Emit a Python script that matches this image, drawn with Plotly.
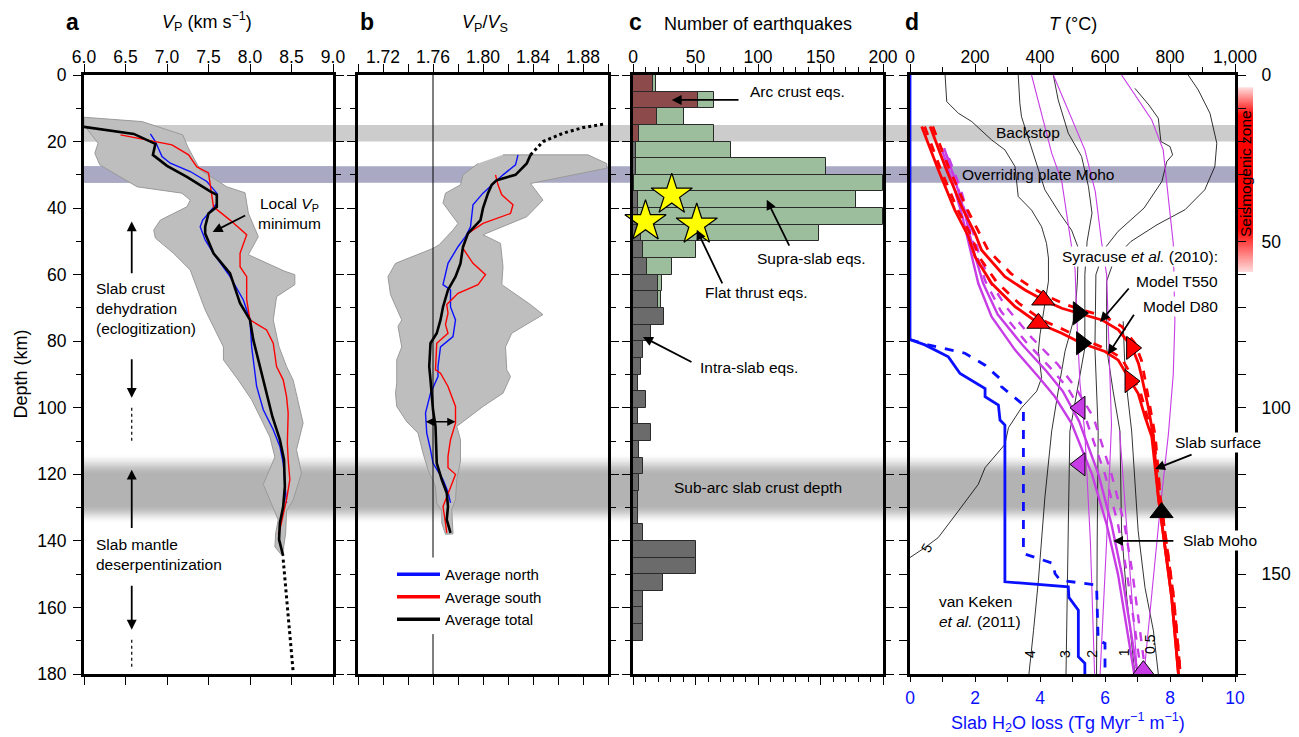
import plotly.graph_objects as go

# page shows the figure with an 8 px body margin -> canvas offset by 8 px
OFF = 8
W, H = 1299 - OFF, 737 - OFF
FONT = "Liberation Sans, Arial, Helvetica, sans-serif"

# ---------------- data ----------------
# panel a : Vp envelope (right edge top->bottom, then left edge bottom->top)
a_env_vp = [6.0, 6.7, 7.19, 7.25, 7.4, 7.72, 7.94, 7.98, 8.1, 7.98, 8.42, 8.54, 8.54, 8.32, 8.28, 8.35, 8.44,
            8.52, 8.64, 8.56, 8.62, 8.52, 8.44, 8.43, 8.39,
            8.3, 8.31, 8.34, 8.16, 8.3, 8.24, 8.02, 7.86, 7.68, 7.68, 7.46, 7.28, 7.08, 6.86, 6.84, 6.92,
            7.24, 7.28, 7.18, 6.64, 6.19, 6.13, 6.17, 6.03, 6.0]
a_env_depth = [12.7, 14, 18, 21.6, 28.5, 33.6, 35.4, 41.5, 48.6, 54, 59, 60, 63, 66.6, 73.6, 81.7, 87.6,
               91.7, 104.6, 112.6, 119.6, 127.7, 131, 137.6, 144.5,
               141.8, 137.6, 133.7, 123, 114.8, 108.8, 97.6, 91.7, 85.6, 81.7, 70.6, 58.6, 53.6, 49, 46.6, 43.6,
               39.6, 37.6, 35.5, 33.6, 27, 23.5, 20.5, 16, 15]
a_total_vp = [6.0, 6.6, 6.86, 6.83, 7.0, 7.24, 7.52, 7.6, 7.6, 7.5, 7.46, 7.46, 7.56, 7.76, 7.88, 8.0, 8.04, 8.12,
              8.16, 8.27, 8.36, 8.41, 8.42, 8.4, 8.36, 8.35, 8.4]
a_total_depth = [15.6, 17.7, 20.7, 24, 27.3, 30.6, 35, 36, 39.6, 41.6, 45.6, 47.6, 53.6, 59.6, 68.6, 73.6, 79.6, 87.6,
                 91.6, 102.7, 109.6, 115.6, 123.7, 129.7, 134.6, 139.6, 144.5]
a_extrap_vp = [8.4, 8.52]
a_extrap_depth = [145.6, 179.4]
a_north_vp = [6.8, 6.86, 6.94, 7.04, 7.28, 7.48, 7.6, 7.6, 7.43, 7.4, 7.46, 7.56, 7.76, 7.92, 8.0, 8.02, 8.05, 8.08,
              8.16, 8.28, 8.36, 8.4, 8.44]
a_north_depth = [17.7, 20, 24.5, 26.5, 29, 32, 35.5, 38.6, 43.6, 45.6, 49.6, 53.6, 60.6, 67.6, 73.6, 81.7, 87.6, 93.6,
                 100.6, 106.6, 111.6, 116.6, 128.6]
a_south_vp = [6.44, 6.76, 7.06, 7.26, 7.36, 7.5, 7.54, 7.56, 7.76, 7.96, 7.88, 7.88, 7.96, 7.96, 8.0, 8.2, 8.28, 8.32,
              8.4, 8.44, 8.46, 8.45, 8.46, 8.48, 8.44, 8.4, 8.36, 8.34]
a_south_depth = [18, 19.5, 21, 24, 27.6, 29.4, 35.5, 39.6, 43.6, 48, 53.6, 57.6, 60.6, 67.6, 73.6, 76.6, 80.6, 87.6,
                 91.6, 96.6, 101.6, 110.6, 115.6, 121.6, 127.6, 132.6, 136.6, 138]

# panel b : Vp/Vs
b_env_r = [1.816, 1.884, 1.899, 1.899, 1.838, 1.848, 1.835, 1.80, 1.814, 1.816, 1.815, 1.838, 1.848, 1.823, 1.818,
           1.819, 1.822, 1.816, 1.80, 1.779, 1.782, 1.782, 1.779, 1.778, 1.775, 1.776,
           1.77, 1.767, 1.767, 1.763, 1.762, 1.756, 1.752, 1.748, 1.739, 1.731, 1.73, 1.731, 1.731, 1.735, 1.732,
           1.735, 1.726, 1.724, 1.73, 1.76, 1.765, 1.776, 1.78, 1.768, 1.77, 1.782, 1.784, 1.796]
b_env_depth = [24, 24, 26.6, 28, 32.6, 37.6, 42.6, 48, 50.6, 57.6, 63, 69, 72, 77.6, 81.7,
               88.6, 90.6, 95.6, 99.6, 105.6, 109.6, 116, 121.6, 127.6, 130.6, 137.9,
               138, 134.6, 131, 128.6, 123.7, 118.6, 113.6, 107.6, 104.2, 99.6, 95.6, 92.6, 85.6, 81.7, 75.6,
               73.6, 66, 60.6, 56.6, 52.1, 51, 46.6, 44.6, 38.5, 35.5, 33, 30, 26.6]
b_total_r = [1.838, 1.835, 1.826, 1.811, 1.807, 1.804, 1.80, 1.798, 1.788, 1.784, 1.782, 1.778, 1.772, 1.768, 1.766,
             1.763, 1.758, 1.757, 1.758, 1.76, 1.762, 1.763, 1.767, 1.771, 1.772, 1.771, 1.774]
b_total_depth = [24, 26.6, 30, 31.6, 33, 35.5, 40, 43.6, 47.6, 51.6, 56.6, 60.6, 64.6, 69.7, 73.6,
                 77.6, 80.6, 87.6, 91.6, 100.6, 105.6, 116.6, 121.6, 125.6, 129.7, 133.6, 137.6]
b_north_r = [1.828, 1.826, 1.816, 1.807, 1.80, 1.792, 1.79, 1.786, 1.78, 1.772, 1.768, 1.774, 1.774, 1.778, 1.776,
             1.766, 1.764, 1.764, 1.758, 1.754, 1.755, 1.758, 1.76, 1.768, 1.772, 1.774]
b_north_depth = [24, 27, 30, 33, 35.5, 39, 45.6, 48.6, 51.6, 56.6, 63, 64.6, 69.7, 73.6, 78.6,
                 81.7, 87.6, 90.6, 95.6, 101.6, 107.6, 112.6, 116.6, 121.6, 125.3, 128.6]
b_south_r = [1.81, 1.812, 1.815, 1.824, 1.822, 1.80, 1.788, 1.784, 1.792, 1.802, 1.796, 1.78, 1.771, 1.772, 1.77,
             1.772, 1.763, 1.762, 1.766, 1.772, 1.778, 1.778, 1.774, 1.772, 1.772, 1.778, 1.775, 1.771, 1.768,
             1.77, 1.771]
b_south_depth = [30, 33, 36, 39, 41.6, 44.6, 47.6, 52.1, 56.6, 60, 63, 65.6, 69, 71.6, 75,
                 77.6, 80.6, 88.6, 89.6, 93.6, 99.6, 104.6, 109.6, 114.6, 118, 120, 123, 126.6, 129.7,
                 134.6, 137.6]
b_extrap_r = [1.838, 1.848, 1.864, 1.88, 1.898]
b_extrap_depth = [24, 20, 17.5, 15.8, 14.7]

# panel c : earthquake counts per 5-km depth bin
bin_top = list(range(0, 180, 5))
supra_counts = [18, 65, 41, 65, 78, 154, 200, 178, 200, 149, 50, 31, 23, 22] + [None] * 22
arc_counts = [16, 52, 19, 5] + [None] * 32
intra_counts = [None] * 4 + [2, 2, 1, 4, 4, 6, 8, 11, 20, 20, 25, 14, 8, 6, 4, 10, 4, 14, 5, 8, 5, 4, 4, 8,
                             50, 50, 24, 8, 8, 8, None, None]
flat_thrust_n = [31, 10, 51]
flat_thrust_depth = [36, 44, 45]

# panel d : temperatures (deg C) and H2O loss
c5_T = [108, 113, 149, 190, 251, 292, 323, 333, 374, 405, 420, 426, 426, 420, 400, 395, 405, 390, 343, 303, 292,
        231, 210, 149, 87, 46, 0]
c5_d = [0, 8, 11.5, 14, 19.5, 22.5, 27.5, 36.5, 40.6, 45.6, 50.6, 55, 62, 66, 78, 83, 91, 95, 100, 106, 111,
        118, 123, 131, 139, 142, 145]
c4_T = [333, 338, 343, 379, 415, 461, 497, 518, 515, 508, 477, 456, 436, 415, 395, 380, 366]
c4_d = [0, 8.5, 12.5, 23.5, 34.5, 41.6, 46.6, 52, 62, 72, 83, 95, 107, 127, 152, 167, 180]
c3_T = [441, 456, 487, 528, 549, 560, 545, 538, 538, 515, 492, 488, 484, 480]
c3_d = [0, 7.5, 17.5, 24.5, 33.5, 41.5, 50, 60, 82, 95, 107, 130, 155, 180]
c2_T = [692, 735, 764, 772, 800, 808, 790, 775, 720, 640, 600, 572, 569, 575, 579, 576, 575, 574]
c2_d = [4, 9, 13, 20, 21.5, 24, 26, 32, 40, 47, 52, 60, 82, 95, 107, 140, 160, 180]
c1_T = [856, 887, 923, 944, 938, 907, 846, 760, 680, 630, 605, 605, 625, 646, 651, 667, 692]
c1_d = [0, 4.5, 11.5, 20.5, 27.5, 34.5, 40.5, 45, 50, 55, 62, 82, 95, 107, 137, 157, 180]
c05_T = [656, 660, 668, 682, 702, 723, 749, 764]
c05_d = [74, 85, 95, 107, 137, 154, 167, 180]

m1_T = [374, 436, 467, 497, 508, 513, 523, 538, 555, 568]
m1_d = [0, 23.5, 32, 50.6, 58.6, 72.6, 92.6, 107.7, 140, 180]
m2_T = [441, 538, 570, 590, 605, 612, 620, 605, 585]
m2_d = [0, 22.5, 35, 50.6, 60, 80, 105, 140, 180]
m3_T = [651, 744, 779, 810, 815, 810, 795, 770, 745, 720]
m3_d = [0, 13.5, 22.5, 50.6, 74, 90, 108, 130, 155, 180]
m4_T = [645, 670, 700]
m4_d = [107, 140, 180]

t550_T = [62, 108, 159, 200, 220, 292, 354, 410, 467, 518, 590, 641, 682, 703, 713, 733, 749, 764, 785, 805, 826]
t550_d = [15.5, 27.5, 39.6, 47.6, 52.6, 60.6, 64.6, 67.6, 70.1, 71.6, 73.6, 76.6, 81.6, 86.7, 90.7, 99.7, 108.7,
          126.7, 141.8, 156.8, 180]
t550b_T = [70, 118, 172, 215, 240, 310, 370, 425, 480, 530, 600, 652, 692, 713, 722, 740, 755, 770, 791, 811, 832]
t550b_d = [15.5, 27.5, 39.6, 47.6, 52.6, 59.6, 63.6, 66.6, 69, 70.6, 72.6, 75.6, 80.6, 86, 90.7, 99.7, 108.7,
           126.7, 141.8, 156.8, 180]
d80_T = [36, 87, 138, 180, 200, 251, 323, 395, 467, 528, 600, 641, 677, 702, 723, 744, 764, 785, 805, 826]
d80_d = [15.5, 28.5, 40.6, 48.6, 54.6, 62.6, 69.6, 74.6, 77.6, 80.6, 83.1, 85.7, 91.7, 95.7, 102.7, 108.7, 126.7,
         141.8, 156.8, 180]
d80b_T = [45, 95, 147, 190, 212, 265, 335, 405, 475, 538, 610, 650, 686, 710, 730, 750, 770, 791, 811, 832]
d80b_d = [15.5, 28.5, 40.6, 48.6, 54.6, 62, 68.6, 73.6, 76.6, 79.6, 82.6, 85, 91, 95.7, 102.7, 108.7, 126.7,
          141.8, 156.8, 180]

moho1_T = [97, 130, 160, 185, 210, 251, 323, 395, 446, 497, 560, 605, 640, 665, 690]
moho1_d = [22, 32, 42, 52.6, 62.6, 72.6, 82.6, 90.7, 96.7, 104.7, 120, 135, 150, 165, 180]
moho2_T = [105, 140, 170, 195, 225, 270, 345, 420, 470, 520, 580, 620, 652, 676, 700]
moho2_d = [22, 32, 42, 52.6, 62.6, 72, 81, 89, 95, 104, 120, 135, 150, 165, 180]
moho1b_T = [112, 145, 175, 200, 232, 280, 355, 432, 485, 540, 600, 640, 668, 690, 712]
moho1b_d = [24, 33, 43, 52.6, 62, 71, 80, 88, 94, 103, 120, 135, 150, 165, 180]
moho2b_T = [120, 155, 185, 210, 245, 298, 375, 455, 510, 565, 620, 660, 685, 705, 725]
moho2b_d = [25, 34, 44, 53, 62, 70, 79, 87, 94, 103, 120, 135, 150, 165, 180]

red_tri_T = [410, 395, 682, 677]
red_tri_d = [67.6, 74.6, 82, 92]
red_tri_sym = ["triangle-up", "triangle-up", "triangle-right", "triangle-right"]
blk_tri_T = [518, 528, 774]
blk_tri_d = [71.6, 80.6, 131.5]
blk_tri_sym = ["triangle-right", "triangle-right", "triangle-up"]
mag_tri_T = [523, 523, 718]
mag_tri_d = [100, 117, 179]
mag_tri_sym = ["triangle-left", "triangle-left", "triangle-up"]

h2o_solid = [0, 0, 0.46, 1.18, 1.54, 2.31, 2.31, 2.72, 2.77, 2.92, 2.92, 4.87, 4.89, 5.18, 5.18, 5.38, 5.38]
h2o_solid_d = [0, 79.5, 81.1, 84.7, 89.7, 94.2, 96.7, 99.2, 103.7, 105.2, 152.3, 153.8, 157, 160.8, 174.8,
               176.8, 180]
h2o_dash = [0, 0.56, 1.69, 2.31, 2.82, 2.82, 3.44, 3.49, 3.49, 4.41, 4.46, 4.62, 5.74, 5.79, 6.0, 6.0]
h2o_dash_d = [79.5, 81.1, 83.6, 87.2, 91.7, 93.7, 98.7, 100.2, 143.8, 146.8, 149.8, 151.8, 153.3, 169.8,
              170.8, 180]

# ---------------- styling helpers ----------------
BLUE = "#0a10ff"
RED = "#ff0000"
MAG = "#c83ce6"
GREEN = "#9cbe9c"
ARC = "#8c4a4a"
INTRA = "#6b6b6b"


def pxx(v):
    return (v - OFF) / W


def pxy(v):
    return 1 - (v - OFF) / H


dom = {
    "a": [pxx(84), pxx(333)],
    "b": [pxx(358), pxx(608)],
    "c": [pxx(633), pxx(883)],
    "d": [pxx(910), pxx(1235)],
}
ydom = [pxy(674), pxy(75)]

fig = go.Figure()


def line(x, y, color, width, xa="x", ya="y", dash="solid", name=None, show=False):
    fig.add_trace(go.Scatter(x=x, y=y, mode="lines", xaxis=xa, yaxis=ya, name=name, showlegend=show,
                             line=dict(color=color, width=width, dash=dash), hoverinfo="skip"))


# panel a
line(a_north_vp, a_north_depth, BLUE, 1.4)
line(a_south_vp, a_south_depth, RED, 1.4)
line(a_total_vp, a_total_depth, "black", 2.6)
line(a_extrap_vp, a_extrap_depth, "black", 3, dash="dot")

# panel b
fig.add_trace(go.Scatter(x=b_env_r, y=b_env_depth, xaxis="x2", yaxis="y2", mode="lines", fill="toself",
                         fillcolor="#bebebe", line=dict(color="#9a9a9a", width=1), showlegend=False,
                         hoverinfo="skip"))
line(b_north_r, b_north_depth, BLUE, 1.4, "x2", "y2")
line(b_south_r, b_south_depth, RED, 1.4, "x2", "y2")
line(b_total_r, b_total_depth, "black", 2.6, "x2", "y2")
line(b_extrap_r, b_extrap_depth, "black", 3, "x2", "y2", dash="dot")
# legend entries
for nm, col in [("Average north", BLUE), ("Average south", RED), ("Average total", "black")]:
    fig.add_trace(go.Scatter(x=[None], y=[None], xaxis="x2", yaxis="y2", mode="lines", name=nm,
                             line=dict(color=col, width=3.5), showlegend=True))

# panel c
bin_mid = [b + 2.5 for b in bin_top]
for vals, col in [(supra_counts, GREEN), (arc_counts, ARC), (intra_counts, INTRA)]:
    fig.add_trace(go.Bar(x=vals, y=bin_mid, orientation="h", width=5, xaxis="x3", yaxis="y3",
                         marker=dict(color=col, line=dict(color="#2a2a2a", width=1)), showlegend=False,
                         hoverinfo="skip"))
fig.add_trace(go.Scatter(x=flat_thrust_n, y=flat_thrust_depth, xaxis="x3", yaxis="y3", mode="markers",
                         marker=dict(symbol="star", size=31, color="#ffff00", line=dict(color="black", width=1.2)),
                         showlegend=False, cliponaxis=False, hoverinfo="skip"))

# panel d
for T, d in [(c5_T, c5_d), (c4_T, c4_d), (c3_T, c3_d), (c2_T, c2_d), (c1_T, c1_d), (c05_T, c05_d)]:
    line(T, d, "black", 0.8, "x4", "y4")
for T, d in [(m1_T, m1_d), (m2_T, m2_d), (m3_T, m3_d), (m4_T, m4_d)]:
    line(T, d, MAG, 1.1, "x4", "y4")
for T, d, ds in [(moho1_T, moho1_d, "solid"), (moho2_T, moho2_d, "solid"),
                 (moho1b_T, moho1b_d, "dash"), (moho2b_T, moho2b_d, "dash")]:
    line(T, d, MAG, 2.4, "x4", "y4", dash=ds)
for T, d, ds in [(t550_T, t550_d, "solid"), (t550b_T, t550b_d, "dash"),
                 (d80_T, d80_d, "solid"), (d80b_T, d80b_d, "dash")]:
    line(T, d, RED, 2.8, "x4", "y4", dash=ds)
line(h2o_solid, h2o_solid_d, BLUE, 2.8, "x5", "y4")
line(h2o_dash, h2o_dash_d, BLUE, 2.8, "x5", "y4", dash="dash")
for T, d, sym, col in [(red_tri_T, red_tri_d, red_tri_sym, RED), (blk_tri_T, blk_tri_d, blk_tri_sym, "black"),
                       (mag_tri_T, mag_tri_d, mag_tri_sym, MAG)]:
    fig.add_trace(go.Scatter(x=T, y=d, xaxis="x4", yaxis="y4", mode="markers",
                             marker=dict(symbol=sym, size=20, color=col, line=dict(color="black", width=1)),
                             showlegend=False, cliponaxis=False, hoverinfo="skip"))

# ---------------- shapes (bands) ----------------
shapes = []
X0, X1 = pxx(84), pxx(1235)
# sub-arc slab crust depth: soft gradient band (opaque overlapping slices)
z = 113.5
while z < 134.6:
    if z < 120:
        t = (z - 113.5) / 6.5
    elif z > 129:
        t = (134.6 - z) / 5.6
    else:
        t = 1.0
    t = max(0.0, min(1.0, t))
    t = t * t * (3 - 2 * t)
    g = int(round(255 - 76 * t))
    shapes.append(dict(type="rect", xref="paper", yref="y", x0=X0, x1=X1, y0=z, y1=min(z + 1.2, 134.6),
                       fillcolor=f"rgb({g},{g},{g})", line=dict(width=0), layer="below"))
    z += 0.4
BACK = (15, 20)
MOHO = (27.4, 32.4)
for (y0, y1), col in [(BACK, "#cccccc"), (MOHO, "#a9a9c4")]:
    shapes.append(dict(type="rect", xref="paper", yref="y", x0=X0, x1=X1, y0=y0, y1=y1,
                       fillcolor=col, line=dict(width=0), layer="below"))
# panel a envelope (under the bands in that panel)
path = "M " + " L ".join(f"{v},{d}" for v, d in zip(a_env_vp, a_env_depth)) + " Z"
shapes.append(dict(type="path", xref="x", yref="y", path=path, fillcolor="#bebebe",
                   line=dict(color="#9a9a9a", width=1), layer="below"))
for (y0, y1), col in [(BACK, "#cccccc"), (MOHO, "#a9a9c4")]:
    shapes.append(dict(type="rect", xref="x domain", yref="y", x0=0, x1=1, y0=y0, y1=y1,
                       fillcolor=col, line=dict(width=0), layer="below"))
# seismogenic zone bar (opaque red-to-white blend)
z = 3.7
while z < 59.2:
    if z < 12:
        t = 0.15 + 0.85 * (z - 3.7) / 8.3
    elif z > 46:
        t = 0.12 + 0.88 * (59.2 - z) / 13.2
    else:
        t = 1.0
    gb = int(round(255 * (1 - t)))
    shapes.append(dict(type="rect", xref="paper", yref="y4", x0=pxx(1237), x1=pxx(1253), y0=z,
                       y1=min(z + 1.2, 59.2), fillcolor=f"rgb(255,{gb},{gb})", line=dict(width=0),
                       layer="below"))
    z += 0.4
# panel b reference line Vp/Vs = 1.76
for y0, y1 in [(0, 145), (168, 180)]:
    shapes.append(dict(type="line", xref="x2", yref="y2", x0=1.76, x1=1.76, y0=y0, y1=y1,
                       line=dict(color="black", width=1), layer="above"))
# panel a dotted guide segments
for y0, y1 in [(100, 110.6), (169.7, 177.8)]:
    shapes.append(dict(type="line", xref="x", yref="y", x0=6.575, x1=6.575, y0=y0, y1=y1,
                       line=dict(color="black", width=1.2, dash="dot"), layer="above"))

# ---------------- annotations ----------------
ann = []
TS = 15.5


def text(x, y, s, xr, yr, size=TS, xanchor="center", color="black", angle=0, bg=None, align="center"):
    d = dict(x=x, y=y, xref=xr, yref=yr, text=s, showarrow=False, xanchor=xanchor, yanchor="middle",
             font=dict(size=size, color=color, family=FONT), textangle=angle, align=align)
    if bg:
        d["bgcolor"] = bg
        d["borderpad"] = 1
    ann.append(d)


def arrow(tx, ty, hx, hy, xr, yr, width=1.8, side="end"):
    ann.append(dict(x=hx, y=hy, ax=tx, ay=ty, xref=xr, yref=yr, axref=xr, ayref=yr, text="",
                    showarrow=True, arrowhead=2, arrowsize=1.1, arrowwidth=width, arrowcolor="black",
                    arrowside=side))


# titles / panel letters (paper)
for lx, s in [(72, "a"), (367, "b"), (635, "c"), (912, "d")]:
    text(pxx(lx), pxy(22), f"<b>{s}</b>", "paper", "paper", size=23)
text(pxx(207), pxy(22), "<i>V</i><sub>P</sub> (km s<sup>−1</sup>)", "paper", "paper", size=18)
text(pxx(485), pxy(24), "<i>V</i><sub>P</sub>/<i>V</i><sub>S</sub>", "paper", "paper", size=18)
text(pxx(758), pxy(24), "Number of earthquakes", "paper", "paper", size=18)
text(pxx(1073), pxy(24), "<i>T</i> (°C)", "paper", "paper", size=18)
text(pxx(20), pxy(374.5), "Depth (km)", "paper", "paper", size=18, angle=-90)
text(pxx(1068), pxy(722), "Slab H<sub>2</sub>O loss (Tg Myr<sup>−1</sup> m<sup>−1</sup>)", "paper", "paper",
     size=18, color=BLUE)
text(pxx(1245), pxy(174), "Seismogenic zone", "paper", "paper", size=TS, angle=-90)

# panel a
text(8.48, 41.6, "Local <i>V</i><sub>P</sub><br>minimum", "x", "y")
arrow(7.96, 42, 7.55, 47.2, "x", "y")
text(6.12, 70.3, "Slab crust<br>dehydration<br>(eclogitization)", "x", "y", xanchor="left", align="left")
text(6.12, 144, "Slab mantle<br>deserpentinization", "x", "y", xanchor="left", align="left")
arrow(6.575, 60, 6.575, 44, "x", "y")
arrow(6.575, 85, 6.575, 97, "x", "y")
arrow(6.575, 136.6, 6.575, 118.6, "x", "y")
arrow(6.575, 153, 6.575, 166.7, "x", "y")

# panel b
arrow(1.753, 104.2, 1.778, 104.2, "x2", "y2", width=1.5, side="end+start")

# panel c
text(92, 5.1, "Arc crust eqs.", "x3", "y3", xanchor="left")
arrow(85.6, 7.5, 31, 7.5, "x3", "y3")
text(143, 55, "Supra-slab eqs.", "x3", "y3")
arrow(125.6, 51.7, 107, 37.5, "x3", "y3")
text(99, 65.5, "Flat thrust eqs.", "x3", "y3")
arrow(72, 63.1, 51, 46.5, "x3", "y3")
text(52, 87.8, "Intra-slab eqs.", "x3", "y3", xanchor="left")
arrow(48, 86.5, 8, 78.7, "x3", "y3")
text(100, 124, "Sub-arc slab crust depth", "x3", "y3")

# panel d
text(363, 17.4, "Backstop", "x4", "y4")
text(394, 29.8, "Overriding plate Moho", "x4", "y4")
text(954, 54.4, "Syracuse <i>et al.</i> (2010):", "x4", "y4", xanchor="right", bg="white")
text(954, 62.2, "Model T550", "x4", "y4", xanchor="right", bg="white")
text(954, 69.7, "Model D80", "x4", "y4", xanchor="right", bg="white")
arrow(677, 63.7, 585, 74.2, "x4", "y4")
arrow(692, 71.6, 609, 84, "x4", "y4")
text(948, 110.3, "Slab surface", "x4", "y4", bg="white")
arrow(871, 113.9, 754, 118.4, "x4", "y4")
text(954, 140, "Slab Moho", "x4", "y4", bg="white")
arrow(815, 140, 625, 140, "x4", "y4")
text(83, 161.2, "van Keken<br><i>et al.</i> (2011)", "x4", "y4", xanchor="left", align="left")
text(51, 142.2, "5", "x4", "y4", size=14, angle=-60)
for tx, ty, s in [(369, 174, "4"), (477, 174, "3"), (559, 174, "2"), (661, 173.5, "1"), (738, 171, "0.5")]:
    text(tx, ty, s, "x4", "y4", size=14, angle=-90)

# ---------------- axes ----------------
tickfont = dict(size=17.5, color="black", family=FONT)


def xax(domain, rng, anchor, **kw):
    d = dict(domain=domain, range=rng, anchor=anchor, side="top", showline=True, linewidth=3,
             linecolor="black", ticks="outside", ticklen=8, tickwidth=1, tickcolor="black",
             mirror="allticks", showgrid=False, zeroline=False, tickfont=tickfont, fixedrange=True,
             automargin=False, ticklabelstandoff=-6)
    d.update(kw)
    return d


def yax(anchor, labels=False, **kw):
    d = dict(domain=ydom, range=[180, 0], anchor=anchor, showline=True, linewidth=3, linecolor="black",
             ticks="outside", ticklen=8, tickwidth=1, tickcolor="black", mirror="allticks",
             showgrid=False, zeroline=False, tickvals=list(range(0, 181, 20)), showticklabels=labels,
             tickfont=tickfont, automargin=False, fixedrange=True, ticklabelstandoff=3,
             minor=dict(dtick=10, ticklen=5, ticks="outside", tickcolor="black"))
    d.update(kw)
    return d


fig.update_layout(
    template="none",
    width=W, height=H, margin=dict(l=0, r=0, t=0, b=0, pad=0), autosize=False,
    paper_bgcolor="white", plot_bgcolor="rgba(0,0,0,0)",
    font=dict(family=FONT, color="black"),
    barmode="overlay", bargap=0,
    xaxis=xax(dom["a"], [6, 9], "y", tick0=6, dtick=0.5, tickformat=".1f"),
    xaxis2=xax(dom["b"], [1.70, 1.90], "y2", tickvals=[1.72, 1.76, 1.80, 1.84, 1.88], tickformat=".2f",
               minor=dict(tick0=1.70, dtick=0.02, ticklen=8, ticks="outside", tickcolor="black")),
    xaxis3=xax(dom["c"], [0, 200], "y3", tick0=0, dtick=50,
               minor=dict(dtick=10, ticklen=5, ticks="outside", tickcolor="black")),
    xaxis4=xax(dom["d"], [0, 1000], "y4", tick0=0, dtick=200, tickformat=",", mirror=True,
               minor=dict(dtick=100, ticklen=5, ticks="outside", tickcolor="black")),
    xaxis5=dict(overlaying="x4", side="bottom", anchor="y4", range=[0, 10], showline=False, ticks="outside",
                ticklen=7, tickwidth=1, tickcolor="black", tick0=0, dtick=2, showgrid=False, zeroline=False,
                tickfont=dict(size=17.5, color=BLUE, family=FONT), automargin=False, fixedrange=True,
                ticklabelstandoff=1,
                minor=dict(dtick=1, ticklen=7, ticks="outside", tickcolor="black")),
    yaxis=yax("x", labels=True),
    yaxis2=yax("x2"),
    yaxis3=yax("x3"),
    yaxis4=yax("x4", labels=True, side="right", tickvals=[0, 50, 100, 150], ticklabelstandoff=12),
    legend=dict(x=pxx(392), y=pxy(558), xanchor="left", yanchor="top", bgcolor="rgba(0,0,0,0)",
                font=dict(size=15, family=FONT), itemwidth=43, tracegroupgap=0, borderwidth=0),
    shapes=shapes, annotations=ann, showlegend=True,
)

fig.write_html("out.html")
